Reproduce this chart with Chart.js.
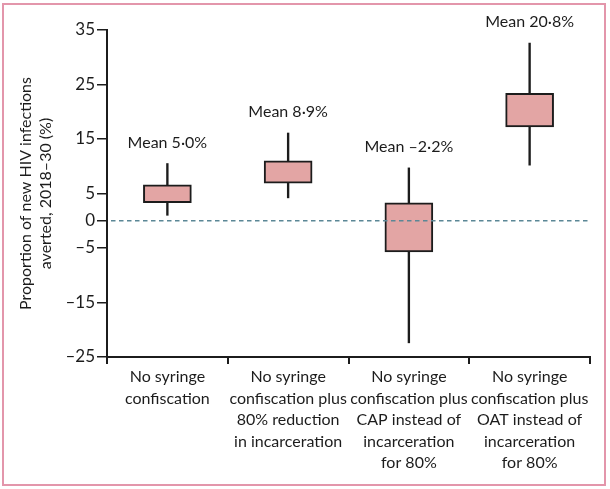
<!DOCTYPE html>
<html>
<head>
<meta charset="utf-8">
<script src="https://cdn.jsdelivr.net/npm/chart.js@4.4.0/dist/chart.umd.min.js"></script>
<style>
  body { margin: 0; background: #fff; }
  #wrap { position: relative; width: 610px; height: 489px; }
  #frame { position: absolute; left: 2px; top: 3px; width: 600px; height: 479px; border: 2px solid #e396ab; pointer-events: none; }
  canvas { position: absolute; left: 0; top: 0; }
</style>
</head>
<body>
<div id="wrap">
  <canvas id="boxChart" width="610" height="489"></canvas>
  <div id="frame"></div>
</div>
<script>
// scenarios on the x axis
const scenarios = [
    ["No syringe", "confiscation"],
    ["No syringe", "confiscation plus", "80% reduction", "in incarceration"],
    ["No syringe", "confiscation plus", "CAP instead of", "incarceration", "for 80%"],
    ["No syringe", "confiscation plus", "OAT instead of", "incarceration", "for 80%"]
];

// proportion of new HIV infections averted (%)
const whiskerLow  = [1.0, 4.2, -22.4, 10.2];
const boxLow      = [3.3, 6.9, -5.7, 17.2];
const boxHigh     = [6.6, 11.0, 3.3, 23.4];
const whiskerHigh = [10.5, 16.1, 9.7, 32.6];
const meanValues  = [5.0, 8.9, -2.2, 20.8];

const yTicks = [35, 25, 15, 5, 0, -5, -15, -25];

const FONT = "Lato, 'DejaVu Sans', sans-serif";
const INK = "#1c1c1c";

function fmtNum(v) {
    return (v < 0 ? "\u2013" : "") + Math.abs(v);
}

function fmtMean(v) {
    return "Mean " + (v < 0 ? "\u2013" : "") + Math.abs(v).toFixed(1).replace(".", "\u00b7") + "%";
}

// ➤ mean labels above whiskers + dashed zero line
const extras = {
    id: "extras",
    afterDatasetsDraw(chart) {
        const { ctx, chartArea, scales: { y } } = chart;
        const meta = chart.getDatasetMeta(0);
        ctx.save();

        const y0 = y.getPixelForValue(0);
        ctx.strokeStyle = "#5b8796";
        ctx.lineWidth = 1.5;
        ctx.setLineDash([4.5, 3.5]);
        ctx.beginPath();
        ctx.moveTo(chartArea.left + 4, y0);
        ctx.lineTo(chartArea.right, y0);
        ctx.stroke();
        ctx.setLineDash([]);

        ctx.font = "16px " + FONT;
        ctx.fillStyle = INK;
        ctx.textAlign = "center";
        ctx.textBaseline = "middle";
        meta.data.forEach((bar, i) => {
            ctx.fillText(fmtMean(meanValues[i]), bar.x, y.getPixelForValue(whiskerHigh[i]) - 21);
        });
        ctx.restore();
    }
};

new Chart(document.getElementById("boxChart"), {
    type: "bar",
    data: {
        labels: scenarios,
        datasets: [
            {
                label: "Box",
                data: scenarios.map((_, i) => [boxLow[i], boxHigh[i]]),
                backgroundColor: "#e3a5a4",
                borderColor: INK,
                borderWidth: 2,
                borderSkipped: false,
                barThickness: 48,
                grouped: false
            },
            {
                label: "Range",
                data: scenarios.map((_, i) => [whiskerLow[i], whiskerHigh[i]]),
                backgroundColor: INK,
                borderWidth: 0,
                barThickness: 1.7,
                grouped: false
            }
        ]
    },
    options: {
        responsive: false,
        animation: false,
        layout: { padding: { left: 0, top: 30, right: 20, bottom: 0 } },
        plugins: {
            legend: { display: false },
            tooltip: { enabled: false }
        },
        scales: {
            x: {
                afterFit: s => { s.height = 132; },
                grid: { drawOnChartArea: false, tickLength: 7, color: INK, lineWidth: 2 },
                border: { display: true, color: INK, width: 2 },
                ticks: {
                    color: INK,
                    padding: 2,
                    maxRotation: 0,
                    autoSkip: false,
                    font: { family: FONT, size: 16, lineHeight: 1.35 }
                }
            },
            y: {
                min: -25,
                max: 35,
                afterFit: s => { s.width = 107; },
                afterBuildTicks: s => { s.ticks = yTicks.map(v => ({ value: v })); },
                grid: { drawOnChartArea: false, tickLength: 10, color: INK, lineWidth: 1.5 },
                border: { display: true, color: INK, width: 2 },
                ticks: {
                    color: INK,
                    padding: 2,
                    font: { family: FONT, size: 17 },
                    callback: v => fmtNum(v)
                },
                title: {
                    display: true,
                    text: ["Proportion of new HIV infections", "averted, 2018\u201330 (%)"],
                    color: INK,
                    padding: { top: 15, bottom: 0 },
                    font: { family: FONT, size: 16, lineHeight: 1.3 }
                }
            }
        }
    },
    plugins: [extras]
});
</script>
</body>
</html>
